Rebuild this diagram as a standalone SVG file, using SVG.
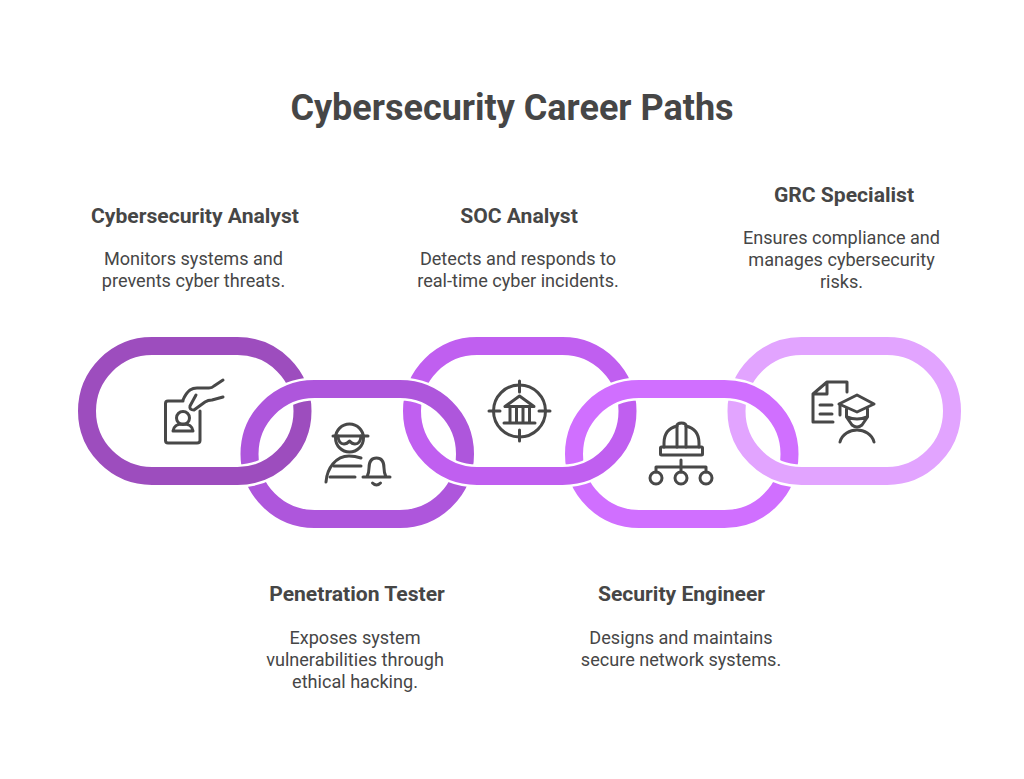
<svg xmlns="http://www.w3.org/2000/svg" width="1024" height="779" viewBox="0 0 1024 779">
<style>
text{font-family:Roboto,"Liberation Sans",sans-serif;fill:#464646;text-anchor:middle}
.t{font-size:36px;font-weight:700}
.h{font-size:21.100px;font-weight:700}
.b{font-size:18.100px;font-weight:400}
.ic{fill:none;stroke:#484848;stroke-width:3;stroke-linecap:round;stroke-linejoin:round}
.halo{fill:none;stroke:#fff;stroke-width:23}
.l{fill:none;stroke-width:18}
</style>
<defs>
<rect id="r" x="0" y="0" width="215.500" height="130" rx="65" ry="65"/>
<clipPath id="low"><rect x="0" y="432" width="1024" height="347"/></clipPath>
</defs>
<rect width="1024" height="779" fill="#fff"/>
<text class="t" x="512" y="120">Cybersecurity Career Paths</text>
<g id="connectors">
<use href="#r" class="l" x="87" y="346" stroke="#9d4dbe"/>
<use href="#r" class="l" x="412" y="346" stroke="#c05ff0"/>
<use href="#r" class="l" x="736.500" y="346" stroke="#e2a4ff"/>
<use href="#r" class="halo" x="249.500" y="389"/>
<use href="#r" class="l" x="249.500" y="389" stroke="#ae56dc"/>
<use href="#r" class="halo" x="574" y="389"/>
<use href="#r" class="l" x="574" y="389" stroke="#d06fff"/>
<g clip-path="url(#low)">
<use href="#r" class="halo" x="87" y="346"/>
<use href="#r" class="l" x="87" y="346" stroke="#9d4dbe"/>
<use href="#r" class="halo" x="412" y="346"/>
<use href="#r" class="l" x="412" y="346" stroke="#c05ff0"/>
<use href="#r" class="halo" x="736.500" y="346"/>
<use href="#r" class="l" x="736.500" y="346" stroke="#e2a4ff"/>
</g>
</g>
<g id="node-analyst">
<path class="ic" d="M183 401H168Q165.500 401 165.500 403.500V440.500Q165.500 443 168 443H197Q200 443 200 440.500V411"/>
<circle class="ic" cx="183" cy="418" r="6.500"/>
<path class="ic" d="M173 431C174 425 178 424 183 424C188 424 192 425 193 431Z"/>
<path class="ic" d="M183 400Q186 393 190 390Q193 388 197 388H209Q212 388 214 386L223 380"/>
<path class="ic" d="M196 395L190 406Q189 410 194 410L205 402Q208 400 212 400L223 397"/>
<text class="h" x="195" y="223">Cybersecurity Analyst</text>
<text class="b" x="193.500" y="265.300">Monitors systems and</text>
<text class="b" x="193.500" y="287.300">prevents cyber threats.</text>
</g>
<g id="node-pentester">
<circle class="ic" cx="349.500" cy="438" r="14"/>
<path class="ic" d="M333 436H368"/>
<path class="ic" d="M338 436Q338.500 444 344 444Q347 444 349.500 441Q352 444 355 444Q360.500 444 361 436"/>
<path class="ic" d="M361 458Q355 456 349 456C336 456 327 468 326 482"/>
<path class="ic" d="M334 466H361M330 477H355"/>
<path class="ic" d="M363 477H390M367 477Q369 473 369 468Q369 458 376.500 458Q384 458 384 468Q384 473 386 477M372.500 483Q376.500 487 380.500 483"/>
<text class="h" x="357" y="601.400">Penetration Tester</text>
<text class="b" x="355" y="644.300">Exposes system</text>
<text class="b" x="355" y="666.300">vulnerabilities through</text>
<text class="b" x="355" y="688.300">ethical hacking.</text>
</g>
<g id="node-soc">
<circle class="ic" cx="519.500" cy="411" r="26"/>
<path class="ic" d="M519.500 381V392M519.500 430V441M489 411H500M539 411H550"/>
<path class="ic" d="M519.500 396L505 406.500H534Z"/>
<path class="ic" d="M510 407V422M516.500 407V422M523 407V422M529.500 407V422M504 423H535"/>
<text class="h" x="519" y="223">SOC Analyst</text>
<text class="b" x="518" y="265.300">Detects and responds to</text>
<text class="b" x="518" y="287.300">real-time cyber incidents.</text>
</g>
<g id="node-engineer">
<path class="ic" d="M664 447V443C664 434 669 428 677 426M699 447V443C699 434 694 428 686 426"/>
<path class="ic" d="M677 447V426Q677 423 681.500 423Q686 423 686 426V447"/>
<rect class="ic" x="660.500" y="447" width="42" height="8" rx="1"/>
<path class="ic" d="M681 460V472M656 472V467H706V472"/>
<circle class="ic" cx="656" cy="478" r="6"/>
<circle class="ic" cx="681" cy="478" r="6"/>
<circle class="ic" cx="706" cy="478" r="6"/>
<text class="h" x="681.500" y="601.400">Security Engineer</text>
<text class="b" x="681" y="644.300">Designs and maintains</text>
<text class="b" x="681" y="666.300">secure network systems.</text>
</g>
<g id="node-grc">
<path class="ic" d="M847 392V382H827L813 394V422H833M827 382V394H813"/>
<path class="ic" d="M820 405H832M820 414H832"/>
<path class="ic" d="M857 395L874 404L857 412L839 404Z"/>
<path class="ic" d="M840 405V415"/>
<path class="ic" d="M846.500 409V417L852 425Q857 429 862 425L867.500 417V409M847 417Q857 421 867 417"/>
<path class="ic" d="M840 442C842 434 850 430 857 430C864 430 872 434 874 442"/>
<text class="h" x="844" y="202">GRC Specialist</text>
<text class="b" x="841.500" y="244.300">Ensures compliance and</text>
<text class="b" x="841.500" y="266.300">manages cybersecurity</text>
<text class="b" x="841.500" y="288.300">risks.</text>
</g>
</svg>
